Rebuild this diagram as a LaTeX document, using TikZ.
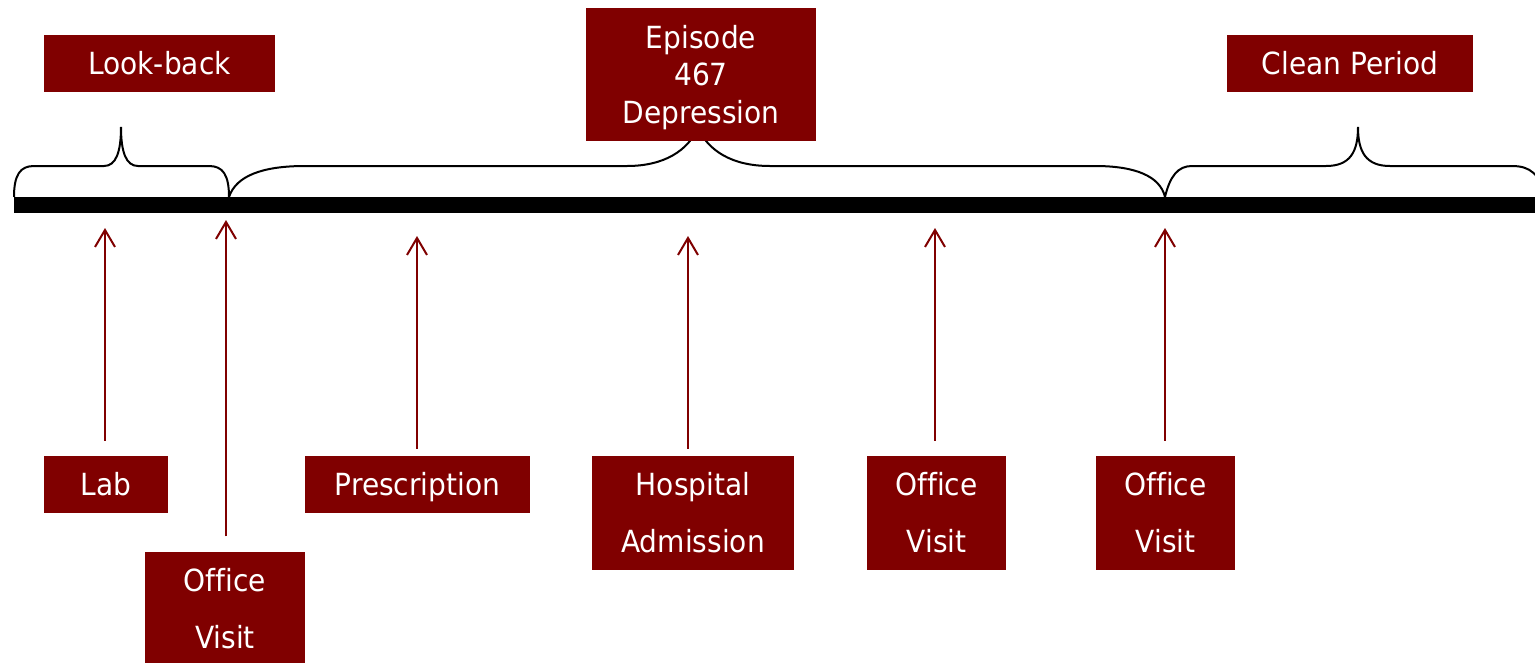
\documentclass[tikz,border=0pt]{standalone}
\usepackage{fontspec}
\setmainfont[FakeStretch=0.92,Ligatures=NoCommon]{DejaVu Sans}
\usetikzlibrary{arrows.meta}
\definecolor{maroon}{RGB}{128,0,0}
\tikzset{
  box/.style={fill=maroon, text=white, inner sep=0pt, align=center,
    font=\fontsize{30.5}{57}\selectfont, text height=22pt, text depth=0pt},
  twoline/.style={font=\fontsize{30.5}{57}\selectfont, text height=79pt, text depth=0pt},
  threeline/.style={font=\fontsize{30.5}{37.5}\selectfont, text height=97pt, text depth=0pt},
  evarrow/.style={draw=maroon, line width=2pt, -{Straight Barb[length=17pt,width=20pt,line width=2pt]}},
  brace/.style={draw=black, line width=2pt},
  timeline/.style={draw=black, line width=16pt}
}
\begin{document}
\begin{tikzpicture}[x=1pt,y=-1pt]
\clip (0,0) rectangle (1535,662);
\fill[white] (0,0) rectangle (1535,662);
% timeline
\coordinate (t0) at (14,205);
\coordinate (t1) at (1545,205);
\draw[timeline] (t0) -- (t1);
% braces
\draw[brace] (14,197) .. controls (14,175) and (20,166) .. (34,166) -- (104,166)
  .. controls (116,166) and (121,152) .. (121,127)
  .. controls (121,152) and (126,166) .. (138,166) -- (209,166)
  .. controls (223,166) and (229,175) .. (229,197);
\draw[brace] (229,197) .. controls (236,176) and (262,166) .. (305,166) -- (627,166)
  .. controls (665,166) and (688,150) .. (698,128)
  .. controls (708,150) and (731,166) .. (770,166) -- (1095,166)
  .. controls (1135,166) and (1160,176) .. (1165,197);
\draw[brace] (1165,197) .. controls (1170,176) and (1178,166) .. (1192,166) -- (1326,166)
  .. controls (1350,166) and (1358,152) .. (1358,127)
  .. controls (1358,152) and (1366,166) .. (1390,166) -- (1512,166)
  .. controls (1530,166) and (1540,174) .. (1545,197);
% top boxes
\node[box, minimum width=231pt, minimum height=57pt] (lookback) at (159.5,63.5) {Look-back};
\node[box, threeline, minimum width=230pt, minimum height=133pt] (episode) at (701,74.5) {Episode\\467\\Depression};
\node[box, minimum width=246pt, minimum height=57pt] (clean) at (1350,63.5) {Clean Period};
% bottom boxes
\node[box, minimum width=124pt, minimum height=57pt] (lab) at (106,484.5) {Lab};
\node[box, twoline, minimum width=160pt, minimum height=114pt] (ov1) at (225,608.5) {Office\\Visit};
\node[box, minimum width=225pt, minimum height=57pt] (presc) at (417.5,484.5) {Prescription};
\node[box, twoline, minimum width=202pt, minimum height=114pt] (hosp) at (693,513) {Hospital\\Admission};
\node[box, twoline, minimum width=139pt, minimum height=114pt] (ov2) at (936.5,513) {Office\\Visit};
\node[box, twoline, minimum width=139pt, minimum height=114pt] (ov3) at (1165.5,513) {Office\\Visit};
% arrow tips
\coordinate (aLab) at (105,228);
\coordinate (aOv1) at (226,220);
\coordinate (aPresc) at (417,236);
\coordinate (aHosp) at (688,236);
\coordinate (aOv2) at (935,228);
\coordinate (aOv3) at (1165,228);
\draw[evarrow] ([xshift=-1pt,yshift=15pt]lab.north) -- (aLab);
\draw[evarrow] ([xshift=1pt,yshift=15pt]ov1.north) -- (aOv1);
\draw[evarrow] ([xshift=-0.5pt,yshift=7pt]presc.north) -- (aPresc);
\draw[evarrow] ([xshift=-5pt,yshift=7pt]hosp.north) -- (aHosp);
\draw[evarrow] ([xshift=-1.5pt,yshift=15pt]ov2.north) -- (aOv2);
\draw[evarrow] ([xshift=-0.5pt,yshift=15pt]ov3.north) -- (aOv3);
\end{tikzpicture}
\end{document}
